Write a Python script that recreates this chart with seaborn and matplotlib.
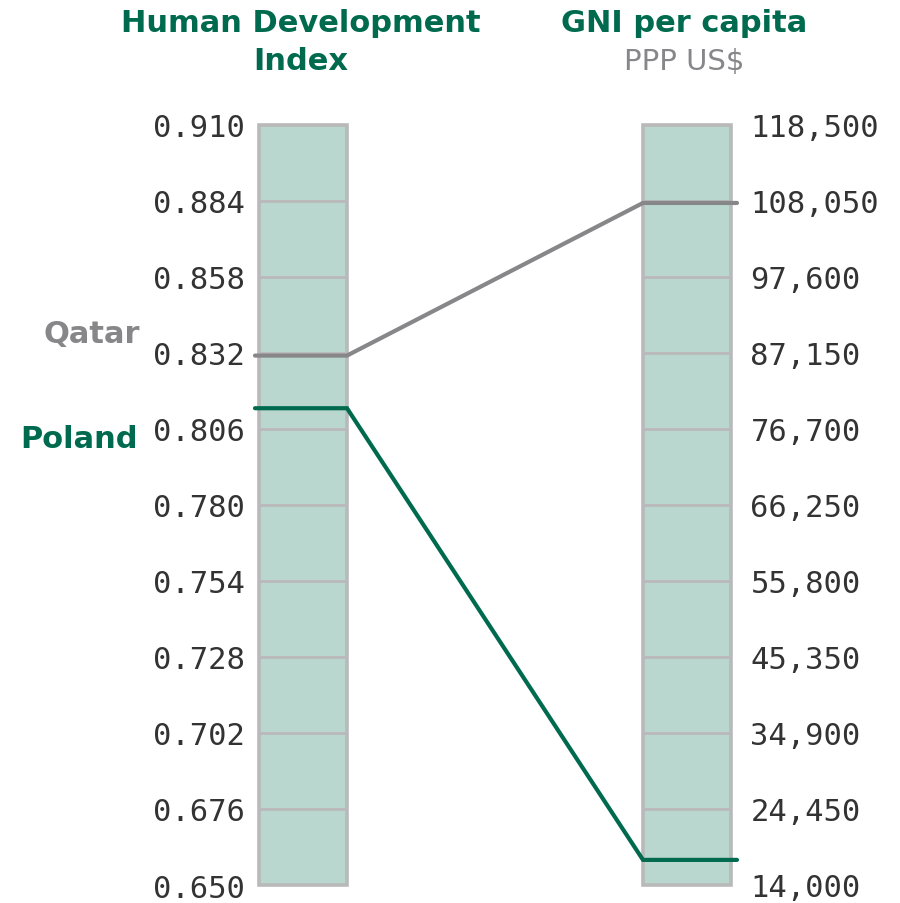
import matplotlib
matplotlib.use("Agg")
import matplotlib.pyplot as plt
import seaborn as sns
import pandas as pd

sns.set_style("white")
plt.rcParams['font.family'] = ['DejaVu Sans']

# ---- data ----
countries = ["Qatar", "Poland"]
hdi_values = [0.831, 0.813]
gni_values = [107721, 17451]
hdi_ticks = [0.650, 0.676, 0.702, 0.728, 0.754, 0.780, 0.806, 0.832, 0.858, 0.884, 0.910]
hdi_labels = ["0.650", "0.676", "0.702", "0.728", "0.754", "0.780", "0.806", "0.832", "0.858", "0.884", "0.910"]
gni_ticks = [14000, 24450, 34900, 45350, 55800, 66250, 76700, 87150, 97600, 108050, 118500]
gni_labels = ["14,000", "24,450", "34,900", "45,350", "55,800", "66,250", "76,700", "87,150", "97,600", "108,050", "118,500"]
colors = {"Qatar": "#87878a", "Poland": "#006a4e"}

GREEN = "#006a4e"
GRAY = "#87878a"
FILL = "#b9d6cf"
EDGE = "#b9b9b9"
TXT = "#333333"

hlo, hhi = hdi_ticks[0], hdi_ticks[-1]
glo, ghi = gni_ticks[0], gni_ticks[-1]

W, H = 900, 904
fig = plt.figure(figsize=(W / 100, H / 100), dpi=100)
ax = fig.add_axes([259 / W, (H - 886) / H, 472 / W, (886 - 125.5) / H])
ax.set_xlim(0, 472)
ax.set_ylim(hlo, hhi)

ax2 = ax.twinx()
ax2.set_ylim(glo, ghi)

# columns
bar_w = 88
bar_centers = [bar_w / 2, 472 - bar_w / 2]
ax.bar(bar_centers, hhi - hlo, bottom=hlo, width=bar_w, color=FILL,
       edgecolor=EDGE, linewidth=2.6, zorder=1, clip_on=False)
for c in bar_centers:
    ax.hlines(hdi_ticks[1:-1], c - bar_w / 2, c + bar_w / 2, color=EDGE, lw=2.0, zorder=2)

# connecting lines
xs = [-4, bar_w, 472 - bar_w, 478]
rows = []
for name, h, g in zip(countries, hdi_values, gni_values):
    g_equiv = hlo + (g - glo) / (ghi - glo) * (hhi - hlo)
    for x, y in zip(xs, [h, h, g_equiv, g_equiv]):
        rows.append({"country": name, "x": x, "y": y})
df = pd.DataFrame(rows)
sns.lineplot(data=df, x="x", y="y", hue="country", palette=colors, sort=False,
             estimator=None, lw=3.0, ax=ax, legend=False, zorder=5)
for ln in ax.lines:
    ln.set_clip_on(False)
    ln.set_solid_joinstyle("miter")

# ticks
ax.set_yticks(hdi_ticks)
ax.set_yticklabels(hdi_labels, family="DejaVu Sans Mono", fontsize=22, color=TXT)
ax2.set_yticks(gni_ticks)
ax2.set_yticklabels(gni_labels, family="DejaVu Sans Mono", fontsize=22, color=TXT)
ax.tick_params(axis="y", length=0, pad=10)
ax2.tick_params(axis="y", length=0, pad=14)
ax.set_xticks([])
ax.set_xlabel("")
ax.set_ylabel("")
for a in (ax, ax2):
    for s in a.spines.values():
        s.set_visible(False)

# country labels
ax.annotate("Qatar", xy=(0, hdi_values[0]), xytext=(-119, 22), textcoords="offset pixels",
            ha="right", va="center", fontsize=22, fontweight="bold", color=GRAY, annotation_clip=False)
ax.annotate("Poland", xy=(0, hdi_values[1]), xytext=(-121, -30), textcoords="offset pixels",
            ha="right", va="center", fontsize=22, fontweight="bold", color=GREEN, annotation_clip=False)

# titles
fig.text(301 / W, 1 - 23 / H, "Human Development", ha="center", va="center",
         fontsize=22, fontweight="bold", color=GREEN)
fig.text(301 / W, 1 - 62 / H, "Index", ha="center", va="center",
         fontsize=22, fontweight="bold", color=GREEN)
fig.text(684 / W, 1 - 23 / H, "GNI per capita", ha="center", va="center",
         fontsize=22, fontweight="bold", color=GREEN)
fig.text(684 / W, 1 - 62 / H, "PPP US$", ha="center", va="center",
         fontsize=21, color=GRAY)

fig.savefig("out.png", dpi=100, facecolor="white")
